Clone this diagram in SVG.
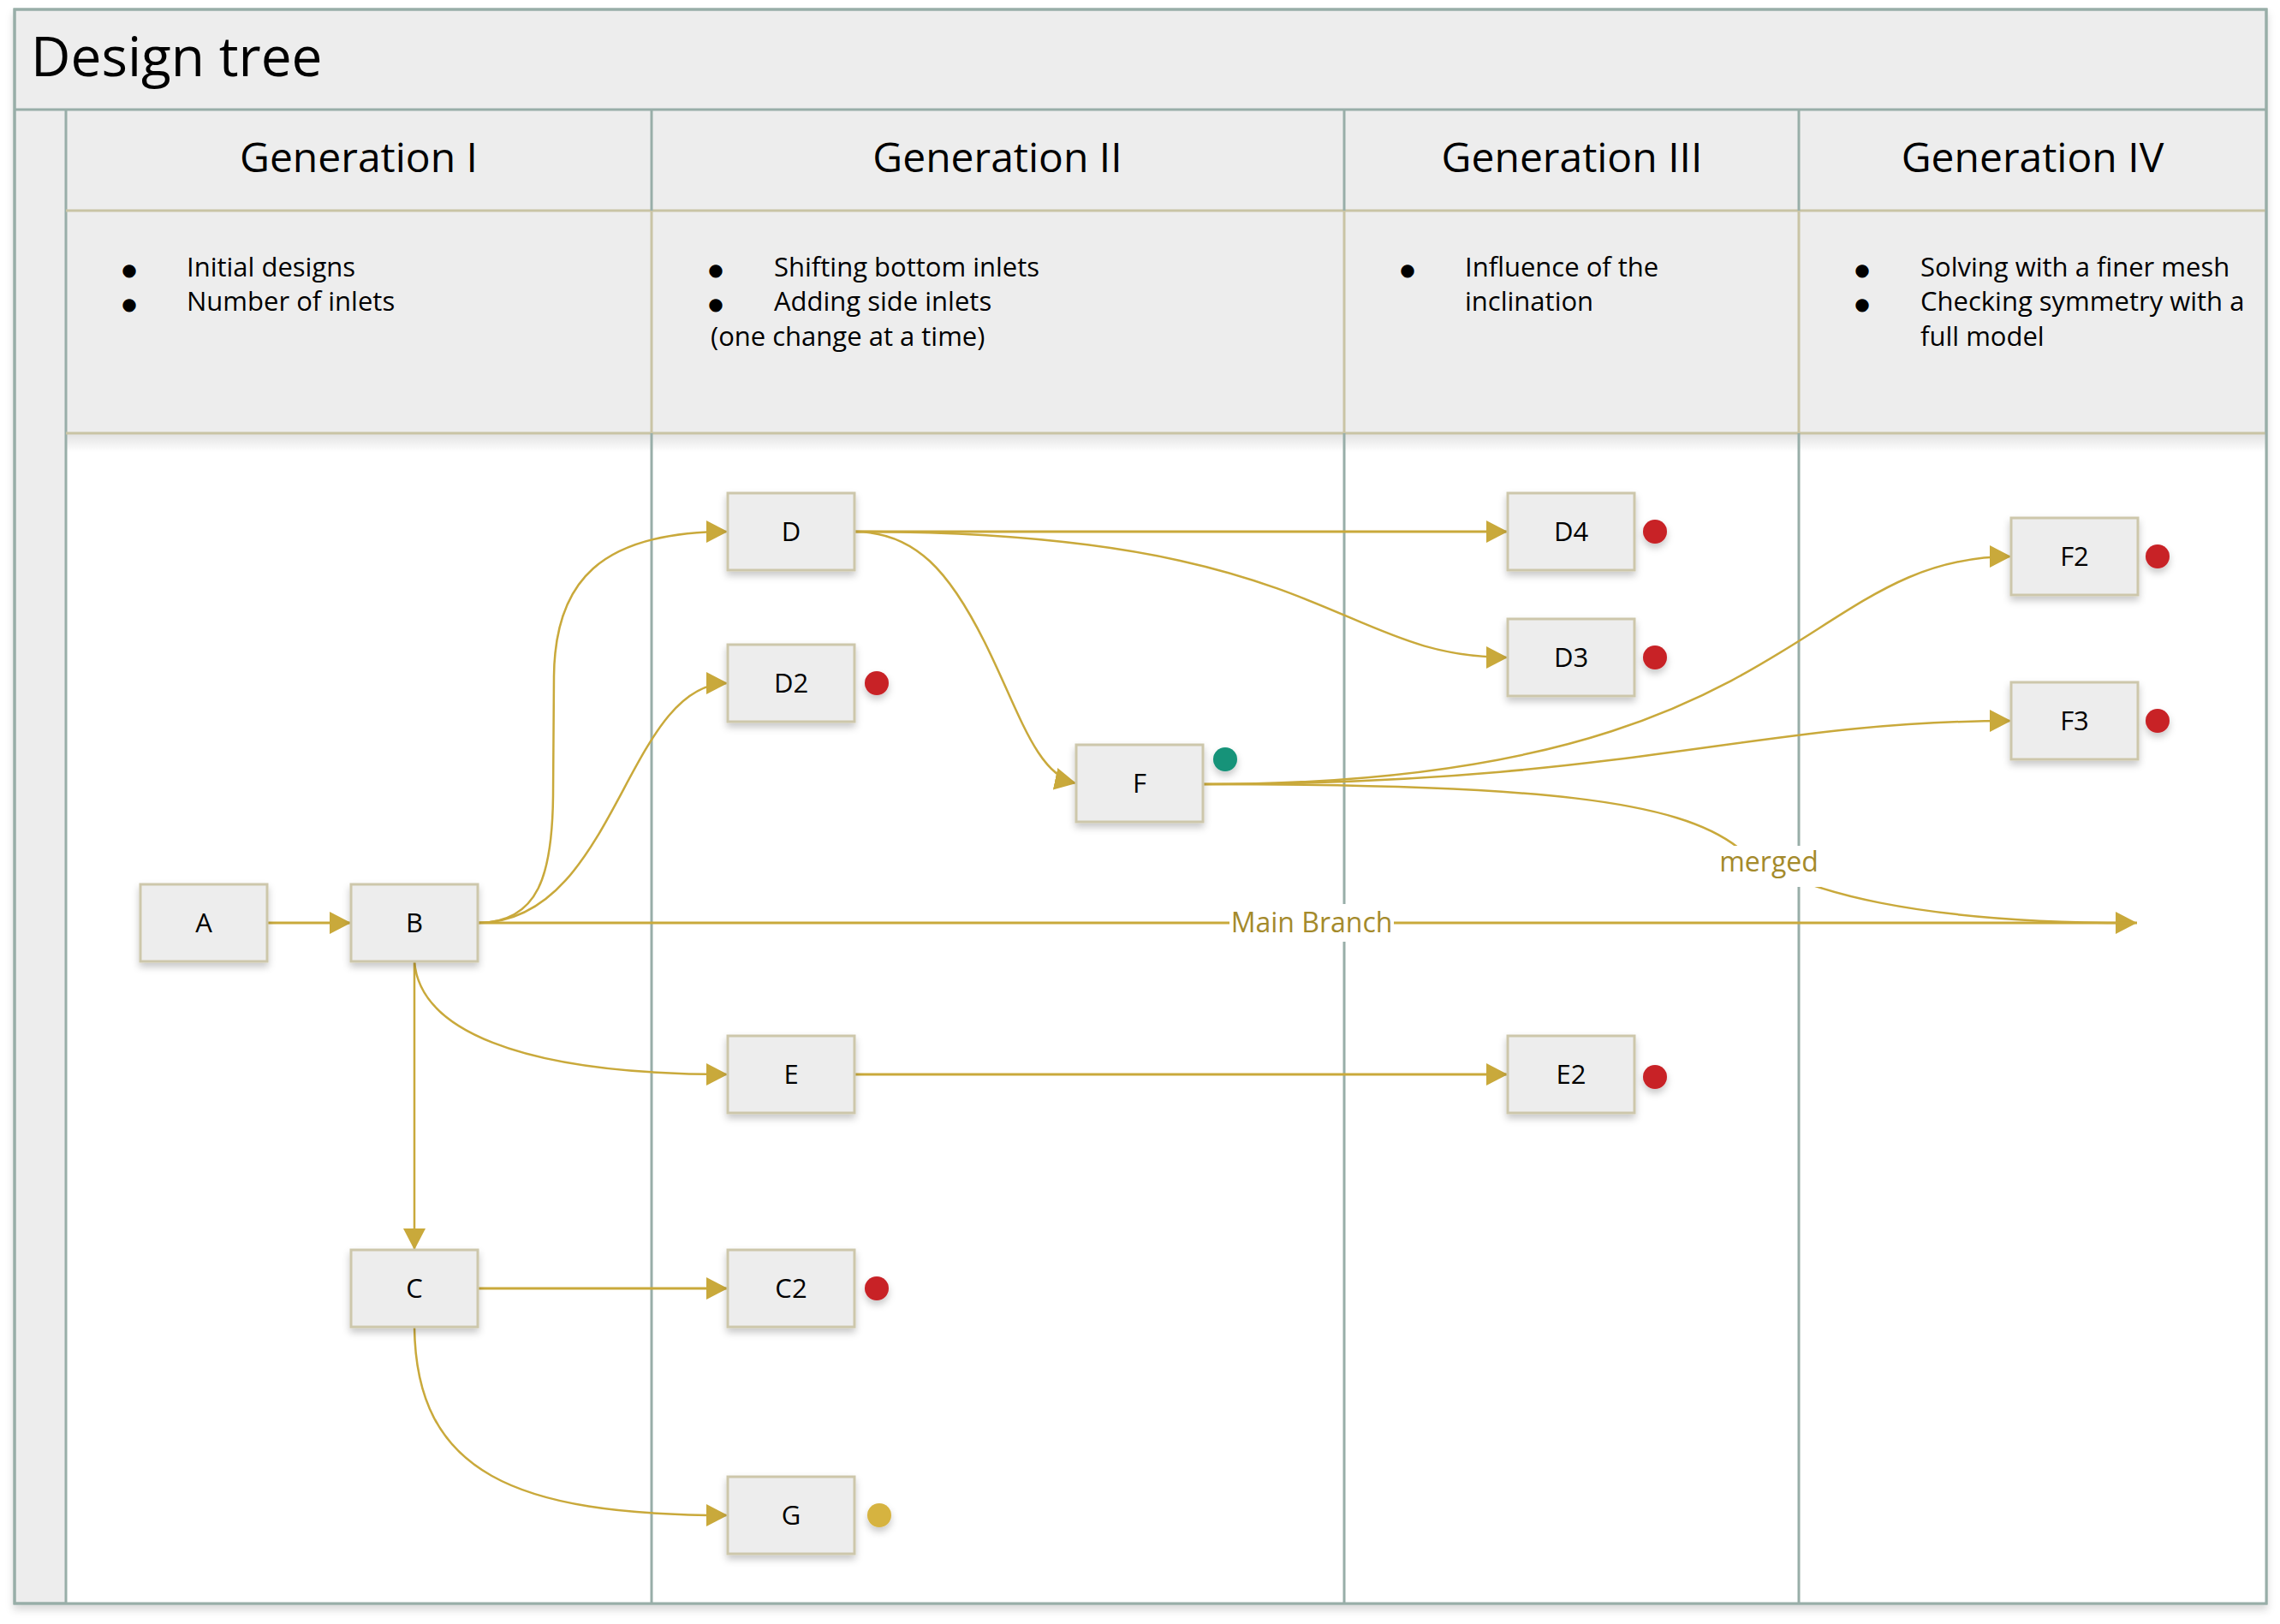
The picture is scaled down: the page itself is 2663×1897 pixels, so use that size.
<svg xmlns="http://www.w3.org/2000/svg" width="2663" height="1897" viewBox="0 0 2663 1897">
<style>
.txt{font-family:"Open Sans","Noto Sans","DejaVu Sans",sans-serif;fill:#000}
.title{font-size:64px}
.hdr{font-size:48px;text-anchor:middle}
.desc{font-size:31px}
.bul{font-family:"DejaVu Sans",sans-serif;font-size:20px;text-anchor:middle;fill:#000}
.tline{stroke:#98aea8;stroke-width:3;fill:none}
.kline{stroke:#c9c4a5;stroke-width:3;fill:none}
.bg{fill:#ededed;stroke:#98aea8;stroke-width:3}
.node rect{fill:#ededed;stroke:#cdc7ab;stroke-width:3}
.node text{font-family:"Open Sans","Noto Sans","DejaVu Sans",sans-serif;font-size:31px;text-anchor:middle;fill:#000}
.edge{fill:none;stroke:#c9a93b;stroke-width:2.5}
.straight{stroke-width:3}
.lbl{font-family:"Open Sans","Noto Sans","DejaVu Sans",sans-serif;font-size:32px;fill:#a48a2b;text-anchor:middle}
.red{fill:#c82127}
.teal{fill:#139379}
.yel{fill:#d6b33f}
</style>
<defs>
<filter id="sh" x="-20%" y="-20%" width="140%" height="150%">
<feDropShadow dx="0" dy="5" stdDeviation="4" flood-color="#000" flood-opacity="0.22"/>
</filter>
<filter id="fsh" x="-2%" y="-2%" width="104%" height="104%">
<feDropShadow dx="0" dy="6" stdDeviation="5" flood-color="#000" flood-opacity="0.15"/>
</filter>
<linearGradient id="rowsh" x1="0" y1="0" x2="0" y2="1">
<stop offset="0" stop-color="#000" stop-opacity="0.12"/>
<stop offset="1" stop-color="#000" stop-opacity="0"/>
</linearGradient>
<marker id="arr" markerUnits="userSpaceOnUse" markerWidth="26" markerHeight="28" refX="25" refY="13" orient="auto">
<path d="M0,0 L25,13 L0,26 Z" fill="#c9a93b"/>
</marker>
</defs>

<g id="frame">
<rect x="17" y="11" width="2630" height="1862" class="bg" filter="url(#fsh)"/>
<rect x="77" y="506" width="2570" height="1367" fill="#ffffff"/>
<rect x="77" y="506" width="2570" height="22" fill="url(#rowsh)"/>
<line class="tline" x1="17" y1="128" x2="2647" y2="128"/>
<line class="tline" x1="77" y1="128" x2="77" y2="1873"/>
<line class="kline" x1="77" y1="246" x2="2647" y2="246"/>
<line class="kline" x1="77" y1="506" x2="2647" y2="506"/>
<line class="kline" x1="761" y1="246" x2="761" y2="506"/>
<line class="kline" x1="1570" y1="246" x2="1570" y2="506"/>
<line class="kline" x1="2101" y1="246" x2="2101" y2="506"/>
<line class="tline" x1="761" y1="128" x2="761" y2="246"/>
<line class="tline" x1="1570" y1="128" x2="1570" y2="246"/>
<line class="tline" x1="2101" y1="128" x2="2101" y2="246"/>
<line class="tline" x1="761" y1="506" x2="761" y2="1873"/>
<line class="tline" x1="1570" y1="506" x2="1570" y2="1873"/>
<line class="tline" x1="2101" y1="506" x2="2101" y2="1873"/>
<rect x="17" y="11" width="2630" height="1862" class="tline"/>
<text class="txt title" x="36" y="89">Design tree</text>
</g>

<g id="headers">
<text class="txt hdr" x="419" y="201">Generation I</text>
<text class="txt hdr" x="1165" y="201">Generation II</text>
<text class="txt hdr" x="1836" y="201">Generation III</text>
<text class="txt hdr" x="2374" y="201">Generation IV</text>
</g>

<g id="descriptions">
<text class="bul" x="151" y="322">●</text>
<text class="txt desc" x="218" y="323">Initial designs</text>
<text class="bul" x="151" y="362">●</text>
<text class="txt desc" x="218" y="363">Number of inlets</text>

<text class="bul" x="836" y="322">●</text>
<text class="txt desc" x="904" y="323">Shifting bottom inlets</text>
<text class="bul" x="836" y="362">●</text>
<text class="txt desc" x="904" y="363">Adding side inlets</text>
<text class="txt desc" x="830" y="404">(one change at a time)</text>

<text class="bul" x="1644" y="322">●</text>
<text class="txt desc" x="1711" y="323">Influence of the</text>
<text class="txt desc" x="1711" y="363">inclination</text>

<text class="bul" x="2175" y="322">●</text>
<text class="txt desc" x="2243" y="323">Solving with a finer mesh</text>
<text class="bul" x="2175" y="362">●</text>
<text class="txt desc" x="2243" y="363">Checking symmetry with a</text>
<text class="txt desc" x="2243" y="404">full model</text>
</g>

<g id="connectors">
<path class="edge straight" d="M312,1078 L410,1078" marker-end="url(#arr)"/>
<path class="edge straight" d="M558,1078 L2496,1078" marker-end="url(#arr)"/>
<path class="edge" d="M558,1078 C630,1078 645,1020 646,930 L647,790 C648,680 700,621 850,621" marker-end="url(#arr)"/>
<path class="edge" d="M558,1078 C720,1078 730,798 850,798" marker-end="url(#arr)"/>
<path class="edge" d="M484,1123 C490,1200 600,1255 850,1255" marker-end="url(#arr)"/>
<path class="edge" d="M484,1123 L484,1460" marker-end="url(#arr)"/>
<path class="edge straight" d="M558,1505 L850,1505" marker-end="url(#arr)"/>
<path class="edge" d="M484,1550 C486,1720 600,1770 850,1770" marker-end="url(#arr)"/>
<path class="edge straight" d="M998,621 L1761,621" marker-end="url(#arr)"/>
<path class="edge" d="M998,621 C1550,621 1560,768 1761,768" marker-end="url(#arr)"/>
<path class="edge" d="M998,621 C1070,621 1110,670 1150,750 C1190,830 1210,905 1257,915" marker-end="url(#arr)"/>
<path class="edge straight" d="M998,1255 L1761,1255" marker-end="url(#arr)"/>
<path class="edge" d="M1405,916 C2100,916 2100,650 2349,650" marker-end="url(#arr)"/>
<path class="edge" d="M1405,916 C1900,916 2050,842 2349,842" marker-end="url(#arr)"/>
<path class="edge" d="M1405,916 C1800,916 1960,935 2030,990 C2100,1045 2250,1078 2490,1078"/>
<rect x="1436" y="1056" width="192" height="44" fill="#ffffff"/>
<text class="lbl" x="1532" y="1089">Main Branch</text>
<rect x="2005" y="988" width="122" height="48" fill="#ffffff"/>
<text class="lbl" x="2066" y="1018">merged</text>
</g>

<g id="node-A" class="node"><rect x="164" y="1033" width="148" height="90" filter="url(#sh)"/><text x="238" y="1089">A</text></g>
<g id="node-B" class="node"><rect x="410" y="1033" width="148" height="90" filter="url(#sh)"/><text x="484" y="1089">B</text></g>
<g id="node-C" class="node"><rect x="410" y="1460" width="148" height="90" filter="url(#sh)"/><text x="484" y="1516">C</text></g>
<g id="node-D" class="node"><rect x="850" y="576" width="148" height="90" filter="url(#sh)"/><text x="924" y="632">D</text></g>
<g id="node-D2" class="node"><rect x="850" y="753" width="148" height="90" filter="url(#sh)"/><text x="924" y="809">D2</text></g>
<g id="node-E" class="node"><rect x="850" y="1210" width="148" height="90" filter="url(#sh)"/><text x="924" y="1266">E</text></g>
<g id="node-C2" class="node"><rect x="850" y="1460" width="148" height="90" filter="url(#sh)"/><text x="924" y="1516">C2</text></g>
<g id="node-G" class="node"><rect x="850" y="1725" width="148" height="90" filter="url(#sh)"/><text x="924" y="1781">G</text></g>
<g id="node-F" class="node"><rect x="1257" y="870" width="148" height="90" filter="url(#sh)"/><text x="1331" y="926">F</text></g>
<g id="node-D4" class="node"><rect x="1761" y="576" width="148" height="90" filter="url(#sh)"/><text x="1835" y="632">D4</text></g>
<g id="node-D3" class="node"><rect x="1761" y="723" width="148" height="90" filter="url(#sh)"/><text x="1835" y="779">D3</text></g>
<g id="node-E2" class="node"><rect x="1761" y="1210" width="148" height="90" filter="url(#sh)"/><text x="1835" y="1266">E2</text></g>
<g id="node-F2" class="node"><rect x="2349" y="605" width="148" height="90" filter="url(#sh)"/><text x="2423" y="661">F2</text></g>
<g id="node-F3" class="node"><rect x="2349" y="797" width="148" height="90" filter="url(#sh)"/><text x="2423" y="853">F3</text></g>

<g id="status-dots" filter="url(#sh)">
<circle class="red" cx="1024" cy="798" r="14"/>
<circle class="red" cx="1024" cy="1505" r="14"/>
<circle class="yel" cx="1027" cy="1770" r="14"/>
<circle class="teal" cx="1431" cy="887" r="14"/>
<circle class="red" cx="1933" cy="621" r="14"/>
<circle class="red" cx="1933" cy="768" r="14"/>
<circle class="red" cx="1933" cy="1258" r="14"/>
<circle class="red" cx="2520" cy="650" r="14"/>
<circle class="red" cx="2520" cy="842" r="14"/>
</g>
</svg>
